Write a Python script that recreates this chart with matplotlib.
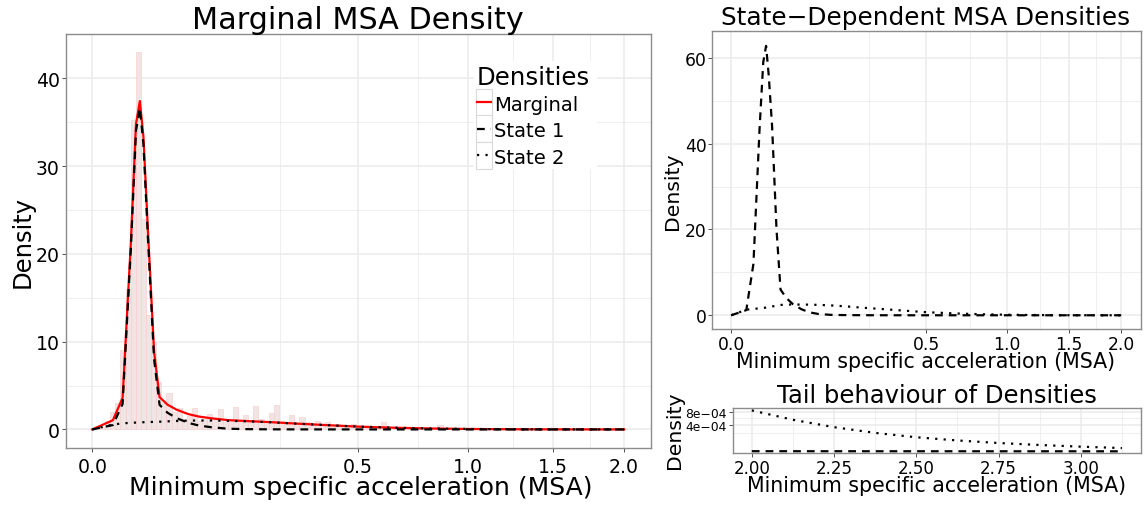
import numpy as np
import matplotlib
matplotlib.use("Agg")
import matplotlib.pyplot as plt
from matplotlib.patches import Rectangle
from matplotlib.lines import Line2D

# ---------------- data ----------------
msa_grid = [0, 0.003, 0.0065, 0.0105, 0.0135, 0.016, 0.0185, 0.022, 0.027, 0.032,
            0.04, 0.05, 0.065, 0.08, 0.1, 0.13, 0.17, 0.22, 0.3, 0.4,
            0.5, 0.65, 0.8, 1.0, 1.25, 1.5, 1.75, 2.0]

# weighted components (left panel)
marginal = [0, 1.05, 3.6, 21.25, 34.78, 37.4, 33.32, 22.34, 8.86, 3.68,
            2.82, 2.26, 1.75, 1.47, 1.27, 1.06, 0.95, 0.84, 0.653, 0.471,
            0.32, 0.19, 0.11, 0.05, 0.019, 0.0063, 0.0017, 0.00036]
state1_weighted = [0, 0.5, 2.9, 20.5, 34.0, 36.6, 32.5, 21.5, 8.0, 2.8,
                   1.9, 1.3, 0.75, 0.45, 0.25, 0.08, 0.03, 0.01, 0.003, 0.001,
                   0, 0, 0, 0, 0, 0, 0, 0]
state2_weighted = [0, 0.55, 0.7, 0.75, 0.78, 0.8, 0.82, 0.84, 0.86, 0.88,
                   0.92, 0.96, 1.0, 1.02, 1.02, 0.98, 0.92, 0.83, 0.65, 0.47,
                   0.32, 0.19, 0.11, 0.05, 0.019, 0.0063, 0.0017, 0.00036]

# state-dependent densities (top-right panel)
state1_density = [0, 1.2, 12.0, 43.0, 59.0, 62.8, 56.0, 44.0, 20.0, 6.0,
                  4.0, 2.6, 1.4, 0.7, 0.3, 0.1, 0.04, 0.015, 0.005, 0.0,
                  0, 0, 0, 0, 0, 0, 0, 0]
state2_density = [0, 1.3, 1.5, 1.6, 1.7, 1.8, 1.9, 2.05, 2.25, 2.4,
                  2.5, 2.5, 2.5, 2.48, 2.42, 2.3, 2.1, 1.8, 1.45, 1.05,
                  0.72, 0.44, 0.26, 0.12, 0.045, 0.015, 0.004, 0.00085]

# histogram (bins of equal width on the square-root scale, centred at k*width)
hist_heights = [0.2, 0.1, 0.3, 1.0, 2.0, 3.0, 9.0, 16.0, 35.2, 43.0,
                24.0, 13.0, 10.0, 5.4, 3.0, 4.2, 2.0, 2.4, 1.2, 1.5,
                2.4, 1.0, 1.2, 1.7, 1.3, 2.3, 0.9, 1.1, 2.5, 1.0,
                1.6, 0.8, 2.7, 1.2, 0.9, 1.9, 2.8, 1.0, 0.7, 1.6,
                0.6, 1.4, 0.9, 0.5, 1.0, 0.4, 0.8, 0.3, 0.6, 0.5,
                0.3, 0.65, 0.25, 0.4, 0.2, 0.35, 0.15, 0.8, 0.2, 0.1,
                0.3, 0.12, 0.25, 0.08, 0.15, 0.3, 0.06, 0.1, 0.45, 0.05,
                0.12, 0.04, 0.2, 0.06, 0.03, 0.1, 0.02, 0.15, 0.03, 0.05,
                0.02, 0.08, 0.01, 0.03, 0.1, 0.02, 0.01, 0.04, 0.02, 0.06,
                0.01, 0.02, 0.05, 0.01, 0.01, 0.03, 0.01, 0.02, 0.01, 0.04,
                0.01, 0.01, 0.02, 0.01, 0.01]
hist_range_max = 2.0

# tail behaviour
tail_x = [2.0, 2.125, 2.25, 2.375, 2.5, 2.625, 2.75, 2.875, 3.0, 3.125]
tail_state1 = [5.2e-6, 5.1e-6, 5.1e-6, 5.0e-6, 5.0e-6, 5.0e-6, 4.9e-6, 4.9e-6, 4.9e-6, 4.8e-6]
tail_state2 = [8.7e-4, 5.4e-4, 3.35e-4, 2.1e-4, 1.34e-4, 8.9e-5, 6.0e-5, 4.1e-5, 2.8e-5, 1.9e-5]

legend_labels = ["Marginal", "State 1", "State 2"]
x_ticks = [0.0, 0.5, 1.0, 1.5, 2.0]
x_minor = [0.25, 0.75, 1.25, 1.75]
tail_ticks = [2.00, 2.25, 2.50, 2.75, 3.00]
tail_yticks = [4e-4, 8e-4]

# ---------------- style ----------------
plt.rcParams['font.family'] = ['DejaVu Sans']
W, H = 1145, 506
fig = plt.figure(figsize=(W / 100, H / 100), dpi=100)
fig.patch.set_facecolor('white')

def fx(px):
    return px / W

def fy(py):
    return 1 - py / H

def add_ax(x0, y0, x1, y1):
    return fig.add_axes([fx(x0), fy(y1), (x1 - x0) / W, (y1 - y0) / H])

def ssqrt(v):
    v = np.asarray(v, dtype=float)
    return np.sign(v) * np.sqrt(np.abs(v))

def ssq(v):
    v = np.asarray(v, dtype=float)
    return np.sign(v) * v ** 2

GRID = '#EBEBEB'
BORDER = '#8C8C8C'
DASH = (3.5, 2.7)
DOT = (1.0, 2.8)
LW = 1.6

def style(ax, labelsize, xpad, ypad):
    ax.set_facecolor('white')
    for s in ax.spines.values():
        s.set_color(BORDER)
        s.set_linewidth(1.0)
    ax.set_axisbelow(True)
    ax.grid(True, which='major', color=GRID, linewidth=1.1)
    ax.grid(True, which='minor', color=GRID, linewidth=0.55)
    ax.tick_params(which='major', length=2.75, width=0.6, color='#333333',
                   labelsize=labelsize, labelcolor='black')
    ax.tick_params(axis='x', pad=xpad)
    ax.tick_params(axis='y', pad=ypad)
    ax.tick_params(which='minor', length=0)

def sqrt_xaxis(ax):
    ax.set_xscale('function', functions=(ssqrt, ssq))
    lo = -0.05 * np.sqrt(2.0)
    hi = np.sqrt(2.0) * 1.05
    ax.set_xlim(ssq(lo), ssq(hi))
    ax.set_xticks(x_ticks)
    ax.set_xticklabels([f"{t:.1f}" for t in x_ticks])
    ax.set_xticks(x_minor, minor=True)

# ---------------- left panel ----------------
ax1 = add_ax(65.7, 35, 650.7, 449.3)
style(ax1, 13.6, 3.6, 1.4)
sqrt_xaxis(ax1)
ax1.set_ylim(-2.15, 45.04)
ax1.set_yticks([0, 10, 20, 30, 40])
ax1.set_yticks([5, 15, 25, 35], minor=True)

nb = len(hist_heights)
bw = np.sqrt(hist_range_max) / (nb - 1)
centers = np.arange(nb) * bw
lefts = ssq(centers - bw / 2)
rights = ssq(centers + bw / 2)
ax1.bar(lefts, hist_heights, width=rights - lefts, align='edge',
        facecolor='#F1E4E4', edgecolor='#F7CFCF',
        linewidth=0.45, zorder=1)

ax1.plot(msa_grid, marginal, color='red', lw=1.6, zorder=3)
ax1.plot(msa_grid, state1_weighted, color='black', lw=LW, dashes=DASH, zorder=4)
ax1.plot(msa_grid, state2_weighted, color='black', lw=LW, dashes=DOT, zorder=4)

fig.text(fx(358), fy(29), "Marginal MSA Density", ha='center', va='baseline', size=21.8)
fig.text(fx(361), fy(495.5), "Minimum specific acceleration (MSA)", ha='center', va='baseline', size=18)
fig.text(fx(23), fy(242), "Density", ha='center', va='center', rotation=90, size=17.5)

# legend (ggplot-like, drawn manually)
fig.patches.append(Rectangle((fx(474), fy(170)), (597 - 474) / W, (170 - 62) / H,
                             transform=fig.transFigure, facecolor='white', edgecolor='none', zorder=5))
fig.text(fx(476.7), fy(85), "Densities", ha='left', va='baseline', size=17.6, zorder=6)
row_edges = [90, 116.5, 143, 169.5]
styles = [dict(color='red', lw=1.6), dict(color='black', lw=LW, dashes=DASH),
          dict(color='black', lw=LW, dashes=DOT)]
for i, lab in enumerate(legend_labels):
    y0, y1 = row_edges[i], row_edges[i + 1]
    fig.patches.append(Rectangle((fx(476), fy(y1)), 16.3 / W, (y1 - y0) / H,
                                 transform=fig.transFigure, facecolor='white',
                                 edgecolor='#D9D9D9', lw=0.8, zorder=6))
    yc = (y0 + y1) / 2
    fig.lines.append(Line2D([fx(477.3), fx(491)], [fy(yc), fy(yc)],
                            transform=fig.transFigure, zorder=7, **styles[i]))
    fig.text(fx(494.3), fy(yc), lab, ha='left', va='center_baseline', size=14.1, zorder=7)

# ---------------- top-right panel ----------------
ax2 = add_ax(711.7, 32.3, 1140.7, 330)
style(ax2, 12.3, 1.9, 0.9)
sqrt_xaxis(ax2)
ax2.set_ylim(-3.2, 66.2)
ax2.set_yticks([0, 20, 40, 60])
ax2.set_yticks([10, 30, 50], minor=True)
ax2.plot(msa_grid, state1_density, color='black', lw=LW, dashes=DASH, zorder=3)
ax2.plot(msa_grid, state2_density, color='black', lw=LW, dashes=DOT, zorder=3)
fig.text(fx(926), fy(25), "State\u2212Dependent MSA Densities", ha='center', va='baseline', size=17.8)
fig.text(fx(926), fy(368.5), "Minimum specific acceleration (MSA)", ha='center', va='baseline', size=14.8)
fig.text(fx(673), fy(191), "Density", ha='center', va='center', rotation=90, size=14.7)

# ---------------- tail panel ----------------
ax3 = add_ax(732.7, 409.3, 1141, 454.3)
style(ax3, 12.0, 1.0, 1.6)
ax3.set_yscale('function', functions=(ssqrt, ssq))
ax3.set_xlim(1.942, 3.183)
ax3.set_ylim(ssq(0.00087), ssq(0.0309))
ax3.set_xticks(tail_ticks)
ax3.set_xticklabels([f"{t:.2f}" for t in tail_ticks])
ax3.set_xticks([2.125, 2.375, 2.625, 2.875, 3.125], minor=True)
ax3.set_yticks(tail_yticks)
ax3.set_yticklabels(["4e\u221204", "8e\u221204"])
ax3.set_yticks([2e-4, 6e-4], minor=True)
ax3.tick_params(axis='y', labelsize=8.9)
ax3.plot(tail_x, tail_state1, color='black', lw=LW, dashes=DASH, zorder=3)
ax3.plot(tail_x, tail_state2, color='black', lw=LW, dashes=DOT, zorder=3)
fig.text(fx(937), fy(403.3), "Tail behaviour of Densities", ha='center', va='baseline', size=17.5)
fig.text(fx(937), fy(491.5), "Minimum specific acceleration (MSA)", ha='center', va='baseline', size=14.8)
fig.text(fx(675), fy(430), "Density", ha='center', va='center', rotation=90, size=14.7)

fig.savefig("out.png", dpi=100, facecolor='white')
